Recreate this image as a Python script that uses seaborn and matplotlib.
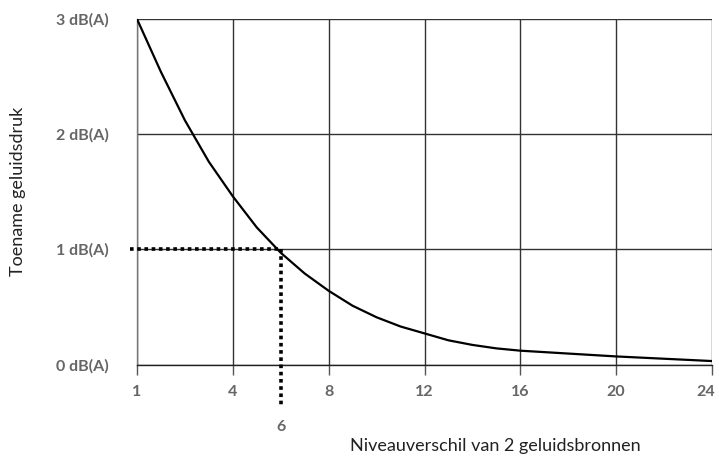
import seaborn as sns
import numpy as np
import pandas as pd
import matplotlib.pyplot as plt
import matplotlib.transforms as mtransforms

# level difference (dB) vs. increase of sound pressure (dB(A))
level_diff = [0, 1, 2, 3, 4, 5, 6, 7, 8, 9, 10, 11, 12, 13, 14, 15, 16, 20, 24]
increase = [3.0, 2.54, 2.12, 1.76, 1.46, 1.19, 0.97, 0.79, 0.64, 0.51, 0.41, 0.33,
            0.27, 0.21, 0.17, 0.14, 0.12, 0.07, 0.03]
x_ticks = [0, 4, 8, 12, 16, 20, 24]
x_labels = ["1", "4", "8", "12", "16", "20", "24"]
y_ticks = [0, 1, 2, 3]
y_labels = ["0 dB(A)", "1 dB(A)", "2 dB(A)", "3 dB(A)"]
marker_x = 6
marker_y = 1

sns.set_theme(style="white")
plt.rcParams['font.family'] = ['Lato', 'DejaVu Sans']

df = pd.DataFrame({"diff": level_diff, "inc": increase})

fig = plt.figure(figsize=(7.19, 4.59), dpi=100)
ax = fig.add_axes([137 / 719, 1 - 364.5 / 459, (712 - 137) / 719, (364.5 - 19) / 459])

sns.lineplot(data=df, x="diff", y="inc", ax=ax, color="black", linewidth=1.6, zorder=5)

ax.set_xlim(0, 24)
ax.set_ylim(0, 3)
ax.set_xticks(x_ticks)
ax.set_xticklabels(x_labels)
ax.set_yticks(y_ticks)
ax.set_yticklabels(y_labels)
ax.grid(True, color="#333333", linewidth=1.0)
ax.set_axisbelow(True)

for side in ["top", "right"]:
    ax.spines[side].set_visible(False)
ax.spines["left"].set_color("#777777")
ax.spines["left"].set_linewidth(1.0)
ax.spines["bottom"].set_color("#222222")
ax.spines["bottom"].set_linewidth(1.0)

ax.tick_params(axis="x", bottom=True, direction="out", length=7.5, width=1.0,
               color="#555555", pad=7, labelsize=11.5, labelcolor="#666666")
ax.tick_params(axis="y", left=False, pad=14, labelsize=11.5, labelcolor="#666666")
for lab in ax.get_xticklabels() + ax.get_yticklabels():
    lab.set_fontweight("bold")

# last x label sits a bit left of its gridline, like the original
last = ax.get_xticklabels()[-1]
last.set_transform(last.get_transform() + mtransforms.ScaledTranslation(-6 / 100, 0, fig.dpi_scale_trans))

ax.set_xlabel("")
ax.set_ylabel("")

# dotted helper lines at 6 dB -> 1 dB(A)
ax.plot([-0.3, marker_x], [marker_y, marker_y], color="black", linestyle=(0, (1, 1)),
        linewidth=2.6, clip_on=False, zorder=6)
ax.plot([marker_x, marker_x], [marker_y, -0.37], color="black", linestyle=(0, (1, 1)),
        linewidth=2.6, clip_on=False, zorder=6)
ax.text(marker_x, -0.545, "6", ha="center", va="center", fontsize=11.5,
        fontweight="bold", color="#666666")

fig.text(18 / 719, 1 - 191 / 459, "Toename geluidsdruk", rotation=90, ha="center",
         va="center", fontsize=13, color="#222222")
fig.text(495 / 719, 1 - 446 / 459, "Niveauverschil van 2 geluidsbronnen", ha="center",
         va="center", fontsize=13, color="#222222")

fig.savefig("out.png", dpi=100)
